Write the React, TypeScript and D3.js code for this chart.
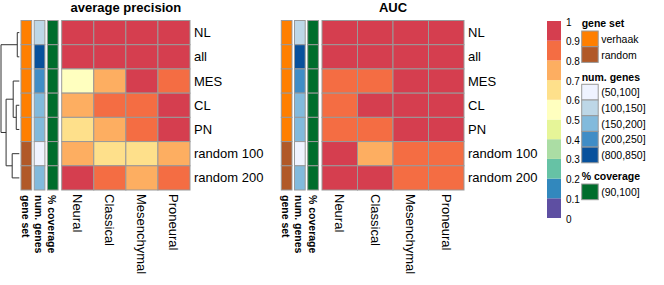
import React from "react";
import * as d3 from "d3";

const rowLabels = ["NL", "all", "MES", "CL", "PN", "random 100", "random 200"];
const colLabels = ["Neural", "Classical", "Mesenchymal", "Proneural"];

const avgPrecision = [
  [0.95, 0.94, 0.93, 0.92],
  [0.96, 0.95, 0.94, 0.93],
  [0.55, 0.75, 0.92, 0.85],
  [0.75, 0.85, 0.83, 0.93],
  [0.65, 0.73, 0.82, 0.91],
  [0.72, 0.66, 0.64, 0.71],
  [0.9, 0.84, 0.78, 0.81],
];
const aucValues = [
  [0.97, 0.96, 0.95, 0.95],
  [0.98, 0.97, 0.96, 0.96],
  [0.88, 0.89, 0.93, 0.94],
  [0.89, 0.92, 0.93, 0.95],
  [0.87, 0.88, 0.92, 0.94],
  [0.91, 0.78, 0.85, 0.86],
  [0.93, 0.91, 0.86, 0.87],
];

const geneSet = ["verhaak", "verhaak", "verhaak", "verhaak", "verhaak", "random", "random"];
const numGenes = ["(100,150]", "(800,850]", "(200,250]", "(150,200]", "(150,200]", "(50,100]", "(150,200]"];
const coverage = ["(90,100]", "(90,100]", "(90,100]", "(90,100]", "(90,100]", "(90,100]", "(90,100]"];

const geneSetLevels = ["verhaak", "random"];
const numGenesLevels = ["(50,100]", "(100,150]", "(150,200]", "(200,250]", "(800,850]"];
const coverageLevels = ["(90,100]"];
const annotationNames = ["gene set", "num. genes", "% coverage"];

const legendTicks = [0, 0.1, 0.2, 0.3, 0.4, 0.5, 0.6, 0.7, 0.8, 0.9, 1];
const legendTickLabels = ["0", "0.1", "0.2", "0.3", "0.4", "0.5", "0.6", "0.7", "0.8", "0.9", "1"];

// hierarchical clustering of rows (merge heights)
const rowTree = {
  h: 18,
  children: [
    { h: 2, children: [{ leaf: "NL" }, { leaf: "all" }] },
    {
      h: 13,
      children: [
        { h: 6, children: [{ leaf: "MES" }, { h: 3, children: [{ leaf: "CL" }, { leaf: "PN" }] }] },
        { h: 7, children: [{ leaf: "random 100" }, { leaf: "random 200" }] },
      ],
    },
  ],
};

const heatColors = ["#5E4FA2", "#3288BD", "#66C2A5", "#ABDDA4", "#E6F598", "#FFFFBF", "#FEE08B", "#FDAE61", "#F46D43", "#D53E4F"];
const color = d3.scaleThreshold<number, string>().domain([0.1, 0.2, 0.3, 0.4, 0.5, 0.6, 0.7, 0.8, 0.9]).range(heatColors);
const geneSetColor = d3.scaleOrdinal<string, string>().domain(geneSetLevels).range(["#FF7F00", "#B15928"]);
const numGenesColor = d3.scaleOrdinal<string, string>().domain(numGenesLevels).range(["#EFF3FF", "#BDD7E7", "#82BADC", "#408DC6", "#08519C"]);
const coverageColor = d3.scaleOrdinal<string, string>().domain(coverageLevels).range(["#006D2C"]);

const FONT = "'Liberation Sans', Arial, Helvetica, sans-serif";
const BORDER = "#999999";

const yRow = d3.scaleBand<string>().domain(rowLabels).range([20.5, 190]);

function Panel({ annX, heatX0, heatX1, title, values }: { annX: number; heatX0: number; heatX1: number; title: string; values: number[][] }) {
  const xCol = d3.scaleBand<string>().domain(colLabels).range([heatX0, heatX1]);
  const annW = 10.7;
  const annStep = 13.2;
  const annCols = [
    { data: geneSet, scale: geneSetColor },
    { data: numGenes, scale: numGenesColor },
    { data: coverage, scale: coverageColor },
  ];
  const labelX = heatX1 + 4;
  const labelTop = 194;
  return (
    <g>
      <text x={(heatX0 + heatX1) / 2} y={12} textAnchor="middle" fontWeight="bold" fontSize={13} fontFamily={FONT}>
        {title}
      </text>
      {annCols.map((a, ci) =>
        a.data.map((v, ri) => (
          <rect
            key={`a${ci}-${ri}`}
            x={annX + ci * annStep}
            y={yRow(rowLabels[ri])}
            width={annW}
            height={yRow.bandwidth()}
            fill={a.scale(v)}
            stroke={BORDER}
            strokeWidth={1}
          />
        ))
      )}
      {values.map((row, ri) =>
        row.map((v, ci) => (
          <rect
            key={`c${ri}-${ci}`}
            x={xCol(colLabels[ci])}
            y={yRow(rowLabels[ri])}
            width={xCol.bandwidth()}
            height={yRow.bandwidth()}
            fill={color(v)}
            stroke={BORDER}
            strokeWidth={1}
          />
        ))
      )}
      {rowLabels.map((r) => (
        <text key={r} x={labelX} y={(yRow(r) as number) + yRow.bandwidth() / 2} dominantBaseline="central" fontSize={13} fontFamily={FONT}>
          {r}
        </text>
      ))}
      {colLabels.map((c) => {
        const cx = (xCol(c) as number) + xCol.bandwidth() / 2;
        return (
          <text key={c} transform={`translate(${cx},${labelTop}) rotate(90)`} dominantBaseline="central" fontSize={13} fontFamily={FONT}>
            {c}
          </text>
        );
      })}
      {annotationNames.map((n, i) => {
        const cx = annX + i * annStep + annW / 2 - 0.5;
        return (
          <text key={n} transform={`translate(${cx},${labelTop + 1}) rotate(90)`} dominantBaseline="central" fontSize={10.5} fontWeight="bold" fontFamily={FONT}>
            {n}
          </text>
        );
      })}
    </g>
  );
}

function Dendrogram() {
  const xH = d3.scaleLinear().domain([0, 18]).range([19.3, 1]);
  const root = d3.hierarchy<any>(rowTree);
  const yOf = (n: d3.HierarchyNode<any>): number => {
    if (!n.children) return (yRow(n.data.leaf) as number) + yRow.bandwidth() / 2;
    const ys = n.children.map(yOf);
    return (ys[0] + ys[ys.length - 1]) / 2;
  };
  const hOf = (n: d3.HierarchyNode<any>) => (n.children ? n.data.h : 0);
  const segs: string[] = [];
  root.each((n) => {
    if (!n.children) return;
    const x = xH(n.data.h);
    const ys = n.children.map(yOf);
    segs.push(`M${x},${ys[0]}V${ys[ys.length - 1]}`);
    n.children.forEach((c, i) => {
      segs.push(`M${x},${ys[i]}H${xH(hOf(c))}`);
    });
  });
  return <path d={segs.join("")} fill="none" stroke="#333" strokeWidth={1} />;
}

function Legends() {
  const yL = d3.scaleLinear().domain([0, 1]).range([218, 21]);
  const bins = d3.range(10).map((i) => ({ lo: legendTicks[i], hi: legendTicks[i + 1] }));
  const lx = 581.7;
  const sw = 16.5;
  const sh = 15.7;
  const groups = [
    { title: "gene set", levels: geneSetLevels, scale: geneSetColor, titleY: 27, top: 31 },
    { title: "num. genes", levels: numGenesLevels, scale: numGenesColor, titleY: 81, top: 84.3 },
    { title: "% coverage", levels: coverageLevels, scale: coverageColor, titleY: 180, top: 184 },
  ];
  return (
    <g fontFamily={FONT}>
      {bins.map((b, i) => (
        <rect key={i} x={547} y={yL(b.hi)} width={14} height={yL(b.lo) - yL(b.hi)} fill={color((b.lo + b.hi) / 2)} />
      ))}
      {legendTicks.map((t, i) => (
        <text key={t} x={566} y={yL(t) + 1} dominantBaseline="central" fontSize={10}>
          {legendTickLabels[i]}
        </text>
      ))}
      {groups.map((g) => (
        <g key={g.title}>
          <text x={lx} y={g.titleY} fontSize={10.5} fontWeight="bold">
            {g.title}
          </text>
          {g.levels.map((lv, i) => (
            <g key={lv}>
              <rect x={lx} y={g.top + i * sh} width={sw} height={sh} fill={g.scale(lv)} stroke={BORDER} strokeWidth={1} />
              <text x={lx + sw + 3} y={g.top + i * sh + sh / 2} dominantBaseline="central" fontSize={10.5}>
                {lv}
              </text>
            </g>
          ))}
        </g>
      ))}
    </g>
  );
}

export default function App() {
  return (
    <svg width={664} height={285} style={{ position: "absolute", left: 0, top: 0, background: "#fff" }}>
      <rect width={664} height={285} fill="#fff" />
      <Dendrogram />
      <Panel annX={21} heatX0={61.7} heatX1={190} title="average precision" values={avgPrecision} />
      <Panel annX={281.3} heatX0={322} heatX1={464} title="AUC" values={aucValues} />
      <Legends />
    </svg>
  );
}
